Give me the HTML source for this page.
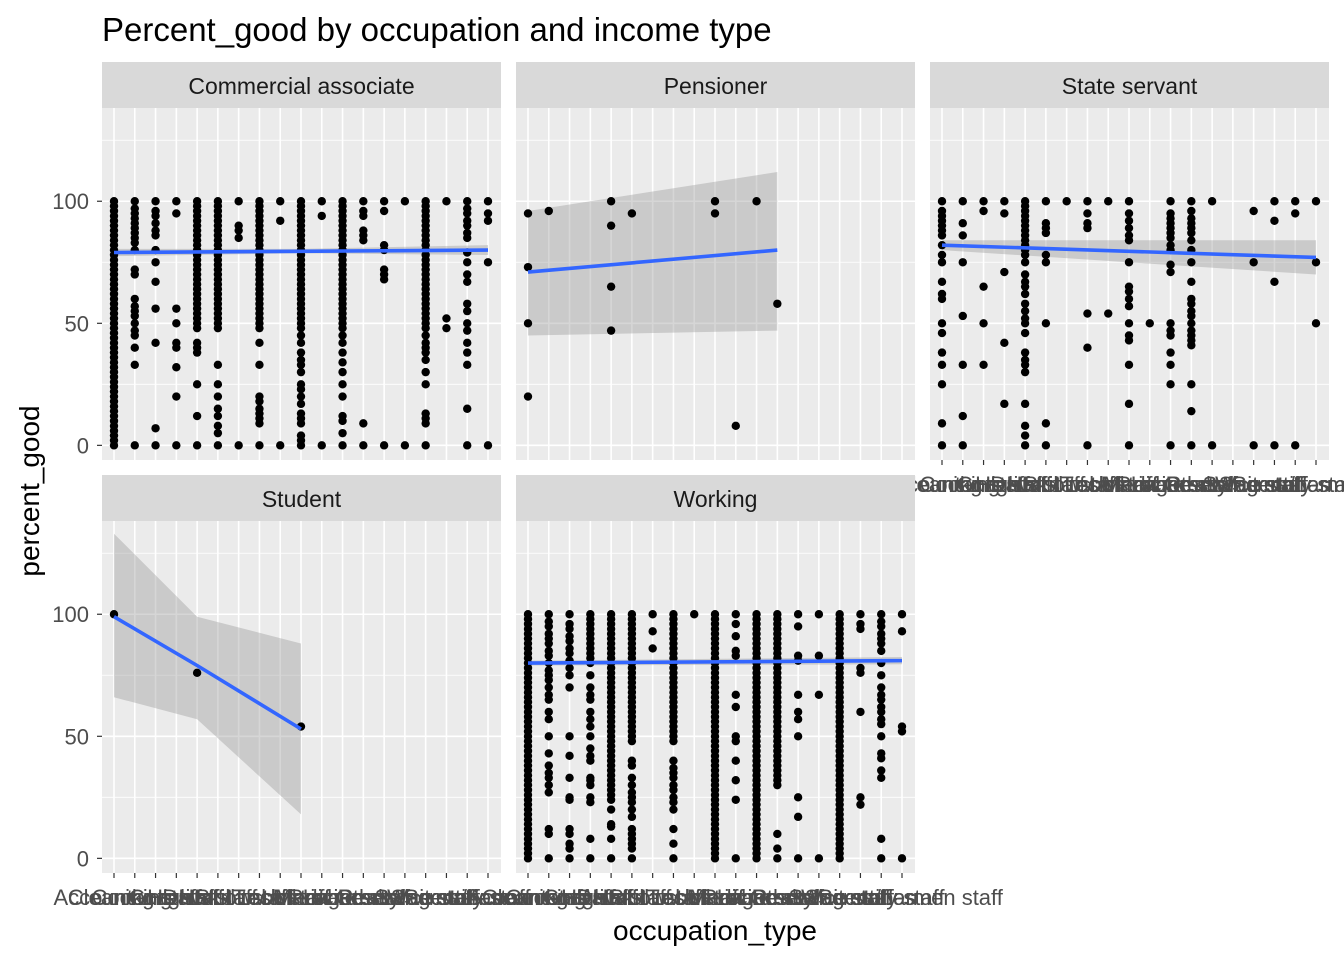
<!DOCTYPE html>
<html><head><meta charset="utf-8"><style>
body{margin:0;background:#fff;width:1344px;height:960px;overflow:hidden}
svg{display:block;font-family:"Liberation Sans",Arial,sans-serif}
</style></head><body>
<svg id="chart" width="1344" height="960" xmlns="http://www.w3.org/2000/svg">
<text x="102" y="41" font-size="33" fill="#000">Percent_good by occupation and income type</text>
<text x="715" y="940" font-size="28" fill="#000" text-anchor="middle">occupation_type</text>
<text transform="translate(39,491) rotate(-90)" font-size="28" fill="#000" text-anchor="middle">percent_good</text>
</svg>
<script>
const categories=["Accountants","Cleaning staff","Cooking staff","Core staff","Drivers","HR staff","High skill tech staff","IT staff","Laborers","Low-skill Laborers","Managers","Medicine staff","Other","Private service staff","Realty agents","Sales staff","Secretaries","Security staff","Waiters/barmen staff"];
const yTicks=[0,50,100];
const panelNames=["Commercial associate","Pensioner","State servant","Student","Working"];
const FULL="100,98,96,94,92,90,88,86,84,82,80,78,76,74,72,70,68,66,64,62,60,58,56,54,52,50,48,46,44,42,40,38,36,34,32,30,28,26,24,22,20,18,16,14,12,10,8,6,4,2,0";
const TOP="100,98,96,94,92,90,88,86,84,82,80,78,76,74,72,70,68,66,64,62,60,58,56,54,52,50,48";
const commercialPoints=[FULL,"100,97,95,93,91,89,87,85,83,80,72,70,60,57,55,53,50,47,45,40,33,0","100,96,94,91,88,86,80,75,67,56,42,7,0","100,95,56,50,42,40,32,20,0",TOP+",42,40,38,25,12,0",TOP+",33,25,20,15,12,8,5,0","100,90,88,85,0",TOP+",42,33,20,18,15,13,11,9,0","100,92,0",TOP+",45,42,38,35,33,30,25,23,20,17,13,11,9,4,2,0","100,94,0",TOP+",45,42,38,34,30,25,20,12,10,5,0","100,96,94,88,86,84,9,0","100,96,82,80,72,70,68,0","100,0",TOP+",45,42,40,38,35,30,25,13,11,9,0","100,52,48","100,97,95,92,90,87,85,79,75,70,67,58,55,50,47,42,38,33,15,0","100,95,92,75,0"];
const pensionerPoints=["95,73,50,20","96","","","100,90,65,47","95","","","","100,95","8","100","58","","","","","",""];
const stateServantPoints=["100,96,94,92,90,88,86,82,78,75,67,62,60,50,46,38,33,25,9,0","100,91,86,75,53,33,12,0","100,96,65,50,33","100,95,71,42,17","100,98,96,94,92,90,88,86,84,82,80,78,75,70,67,65,62,58,55,52,50,46,38,35,33,30,17,8,4,0","100,91,89,87,78,75,50,9,0","100","100,95,91,89,54,40,0","100,54","100,95,92,89,86,84,75,65,63,60,57,50,45,43,33,17,0","50","100,95,93,91,89,87,85,82,80,74,71,50,47,45,38,33,25,0","100,96,93,91,89,87,84,80,75,67,60,58,55,53,50,47,45,43,41,25,14,0","100,0","","96,75,0","100,92,67,0","100,95,0","100,75,50"];
const studentPoints=["100","","","","76","","","","","54","","","","","","","","",""];
const workingPoints=[FULL,"100,97,95,92,90,88,85,83,80,77,75,73,70,67,65,60,57,50,43,38,35,33,30,27,12,10,0","100,96,94,91,89,86,84,81,78,75,70,50,42,33,25,24,12,10,6,4,0","100,98,96,94,92,90,88,86,84,82,80,75,70,67,65,60,57,54,50,45,42,40,33,32,30,25,23,8,0",FULL.replace(",22,20,18,16,14,12,10,8,6,4,2,0",",20,14,13,8,0"),TOP+",40,38,33,30,27,25,23,20,17,12,10,8,6,4,0","100,93,86",TOP+",40,37,35,33,30,28,25,23,20,12,6,0","100",FULL,"100,96,91,85,83,67,62,50,48,40,32,24,0",FULL,TOP+",46,44,42,40,38,36,34,32,30,10,4,0","100,95,83,81,67,60,57,50,25,17,0","100,83,67,0",FULL,"100,96,94,78,76,60,25,22","100,97,95,92,90,88,85,80,75,70,67,65,62,60,57,55,50,43,41,36,33,8,0","100,93,54,52,0"];
const smoothX=[[0,9,18],[0,12],[0,18],[0,4,9],[0,18]];
const smoothY=[[79,79.5,80],[71,80],[82,77],[99,79,53],[80,81]];
const smoothLo=[[77.5,78.7,78],[45,47],[80,70],[66,57,18],[79,79.5]];
const smoothHi=[[80.5,80.5,82],[96,112],[84,84],[133,99,88],[81,82.5]];
const allPoints=[commercialPoints,pensionerPoints,stateServantPoints,studentPoints,workingPoints];

const NS="http://www.w3.org/2000/svg";
const svg=document.getElementById('chart');
function mk(tag,attrs,parent){const e=document.createElementNS(NS,tag);for(const k in attrs)e.setAttribute(k,attrs[k]);(parent||svg).appendChild(e);return e;}
const panels=[{x:102,top:108,bot:460},{x:516,top:108,bot:460},{x:930,top:108,bot:460},{x:102,top:521,bot:873},{x:516,top:521,bot:873}];
const W=399,YMIN=-6,YMAX=138.2;
panels.forEach((p,i)=>{
  const xs=c=>p.x+12+c*(374/(categories.length-1));
  const ys=v=>p.bot-(v-YMIN)/(YMAX-YMIN)*(p.bot-p.top);
  const g=mk('g',{});
  
  
  const st=mk('rect',{x:p.x,y:p.top-46,width:W,height:46,fill:'#d9d9d9'},g);
  
  
  const stt=mk('text',{x:p.x+W/2,y:p.top-14,'font-size':23,fill:'#1a1a1a','text-anchor':'middle'},g);
  stt.textContent=panelNames[i];
  
  
  const bg=mk('rect',{x:p.x,y:p.top,width:W,height:p.bot-p.top,fill:'#ebebeb'},g);
  
  
  [25,75,125].forEach(v=>mk('line',{x1:p.x,x2:p.x+W,y1:ys(v),y2:ys(v),stroke:'#fff','stroke-width':0.8},g));
  yTicks.forEach(v=>mk('line',{x1:p.x,x2:p.x+W,y1:ys(v),y2:ys(v),stroke:'#fff','stroke-width':1.6},g));
  categories.forEach((c,k)=>mk('line',{x1:xs(k),x2:xs(k),y1:p.top,y2:p.bot,stroke:'#fff','stroke-width':1.6},g));
  const sx=smoothX[i];
  let d='M'+sx.map((c,k)=>xs(c)+','+ys(smoothHi[i][k])).join('L');
  d+='L'+sx.slice().reverse().map((c,k)=>xs(c)+','+ys(smoothLo[i][sx.length-1-k])).join('L')+'Z';
  const rb=mk('path',{d:d,fill:'#999','fill-opacity':0.4},g);
  
  
  allPoints[i].forEach((s,k)=>{ if(!s) return; s.split(',').forEach(v=>{
    const pt=mk('circle',{cx:xs(k),cy:ys(+v),r:4.2,fill:'#000'},g);
    
    
  });});
  const ln=mk('polyline',{points:sx.map((c,k)=>xs(c)+','+ys(smoothY[i][k])).join(' '),fill:'none',stroke:'#3366ff','stroke-width':3.6},g);
  
  
  if(p.x===102){yTicks.forEach(v=>{
    mk('line',{x1:p.x-5,x2:p.x,y1:ys(v),y2:ys(v),stroke:'#333','stroke-width':1.2},g);
    const t=mk('text',{x:p.x-13,y:ys(v)+8,'font-size':22,fill:'#4d4d4d','text-anchor':'end'},g);
    t.textContent=v;
    
    
  });}
  if(i>=2){categories.forEach((c,k)=>{
    mk('line',{x1:xs(k),x2:xs(k),y1:p.bot,y2:p.bot+5,stroke:'#333','stroke-width':1.2},g);
    const t=mk('text',{x:xs(k),y:p.bot+32,'font-size':22,fill:'#4d4d4d','text-anchor':'middle'},g);
    t.textContent=c;
    
    
  });}
});
</script>
</body></html>
